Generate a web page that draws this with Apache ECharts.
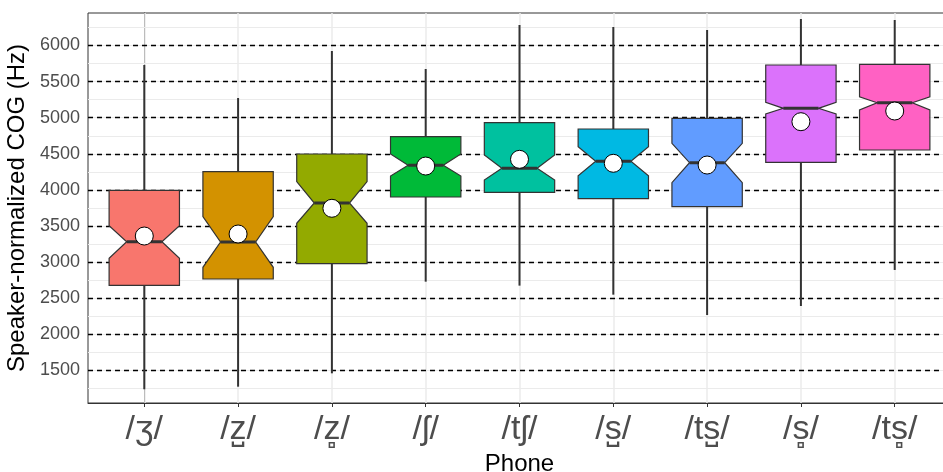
<!DOCTYPE html>
<html><head><meta charset="utf-8">
<script src="https://cdn.jsdelivr.net/npm/echarts@6/dist/echarts.min.js"></script>
<style>html,body{margin:0;padding:0;background:#fff}#c{width:943px;height:472px}</style>
</head><body><div id="c"></div>
<script>
const phones = ['/ʒ/', '/z̺/', '/z̻/', '/ʃ/', '/tʃ/', '/s̺/', '/ts̺/', '/s̻/', '/ts̻/'];
const colors = ['#F8766D', '#D39200', '#93AA00', '#00BA38', '#00C19F', '#00B9E3', '#619CFF', '#DB72FB', '#FF61C3'];
const whiskerLow  = [1240, 1276, 1461, 2730, 2675, 2550, 2268, 2393, 2892];
const q1          = [2680, 2767, 2979, 3902, 3967, 3879, 3768, 4383, 4553];
const notchLow    = [3054, 2929, 3538, 4193, 4138, 4195, 4100, 5052, 5107];
const median      = [3283, 3279, 3819, 4341, 4300, 4397, 4377, 5130, 5208];
const notchHigh   = [3505, 3630, 4115, 4498, 4484, 4600, 4646, 5213, 5291];
const q3          = [3995, 4253, 4498, 4737, 4931, 4844, 4992, 5730, 5740];
const whiskerHigh = [5730, 5273, 5924, 5675, 6284, 6256, 6215, 6367, 6353];
const means       = [3362, 3390, 3746, 4331, 4424, 4369, 4345, 4945, 5093];
const yTicks = [1500, 2000, 2500, 3000, 3500, 4000, 4500, 5000, 5500, 6000];
const yGridLines = [1250, 1500, 1750, 2000, 2250, 2500, 2750, 3000, 3250, 3500, 3750, 4000, 4250, 4500, 4750, 5000, 5250, 5500, 5750, 6000, 6250];
const xPositions = [0, 1, 2, 3, 4, 5, 6, 7, 8];

const boxData = phones.map((p, i) => [i, whiskerLow[i], q1[i], notchLow[i], median[i], notchHigh[i], q3[i], whiskerHigh[i], means[i]]);

const BOX_HW = 0.375, NOTCH_HW = 0.1875;

function renderItem(params, api) {
  const x = api.value(0);
  const c = (dx, v) => api.coord([x + dx, v]);
  const wl = api.value(1), lo = api.value(2), nl = api.value(3), md = api.value(4),
        nh = api.value(5), hi = api.value(6), wh = api.value(7), mn = api.value(8);
  const pts = [
    c(-BOX_HW, hi), c(-BOX_HW, nh), c(-NOTCH_HW, md), c(-BOX_HW, nl), c(-BOX_HW, lo),
    c(BOX_HW, lo), c(BOX_HW, nl), c(NOTCH_HW, md), c(BOX_HW, nh), c(BOX_HW, hi)
  ];
  const top = c(0, wh), qt = c(0, hi), qb = c(0, lo), bot = c(0, wl);
  const m1 = c(-NOTCH_HW, md), m2 = c(NOTCH_HW, md);
  const mc = c(0, mn);
  const lineStyle = { stroke: '#333333', lineWidth: 2 };
  return {
    type: 'group',
    children: [
      { type: 'line', shape: { x1: top[0], y1: top[1], x2: qt[0], y2: qt[1] }, style: lineStyle },
      { type: 'line', shape: { x1: qb[0], y1: qb[1], x2: bot[0], y2: bot[1] }, style: lineStyle },
      { type: 'polygon', shape: { points: pts }, style: { fill: colors[params.dataIndex], stroke: '#333333', lineWidth: 1.2 } },
      { type: 'line', shape: { x1: m1[0], y1: m1[1], x2: m2[0], y2: m2[1] }, style: { stroke: '#333333', lineWidth: 3 } },
      { type: 'circle', shape: { cx: mc[0], cy: mc[1], r: 9 }, style: { fill: '#ffffff', stroke: '#000000', lineWidth: 1 } }
    ]
  };
}

const chart = echarts.init(document.getElementById('c'), null, { renderer: 'canvas' });
chart.setOption({
  animation: false,
  backgroundColor: '#ffffff',
  textStyle: { fontFamily: 'Liberation Sans, DejaVu Sans, sans-serif' },
  grid: { left: 88, right: -8, top: 13, bottom: 69, outerBoundsMode: 'none', containLabel: false,
    show: true, borderColor: '#333333', borderWidth: 1, backgroundColor: 'transparent' },
  xAxis: {
    type: 'value', min: -0.6, max: 8.6,
    name: 'Phone', nameLocation: 'middle', nameGap: 46,
    nameTextStyle: { fontSize: 24, color: '#000000', fontFamily: 'Liberation Sans' },
    axisLine: { show: true, lineStyle: { color: '#333333', width: 1 } },
    axisTick: { show: true, length: 4, customValues: xPositions, lineStyle: { color: '#333333' } },
    axisLabel: { customValues: xPositions, margin: 10, fontSize: 34, color: '#4d4d4d',
      fontFamily: 'Liberation Sans, DejaVu Sans', formatter: v => phones[Math.round(v)] },
    splitLine: { show: false }
  },
  yAxis: {
    type: 'value', min: 1050, max: 6450,
    name: 'Speaker-normalized COG (Hz)', nameLocation: 'middle', nameGap: 55,
    nameTextStyle: { fontSize: 24, color: '#000000', fontFamily: 'Liberation Sans' },
    axisLine: { show: true, lineStyle: { color: '#333333', width: 1 } },
    axisTick: { show: true, length: 4, customValues: yTicks, lineStyle: { color: '#333333' } },
    axisLabel: { customValues: yTicks, margin: 8, fontSize: 18, color: '#4d4d4d', formatter: v => String(v) },
    splitLine: { show: false }
  },
  series: [
    {
      type: 'line', data: [], silent: true, z: 1,
      markLine: {
        silent: true, symbol: 'none', label: { show: false }, animation: false, z: 1,
        data: [
          ...yGridLines.map(v => ({ yAxis: v, lineStyle: { color: '#ebebeb', width: 1, type: 'solid' } })),
          ...xPositions.map(v => ({ xAxis: v, lineStyle: { color: '#ebebeb', width: 1.5, type: 'solid' } })),
          ...yTicks.map(v => ({ yAxis: v, lineStyle: { color: '#000000', width: 1.3, type: [5, 4] } }))
        ]
      }
    },
    {
      type: 'custom', z: 10, renderItem: renderItem, data: boxData,
      encode: { x: 0, y: [1, 7] }
    }
  ]
});
</script></body></html>
